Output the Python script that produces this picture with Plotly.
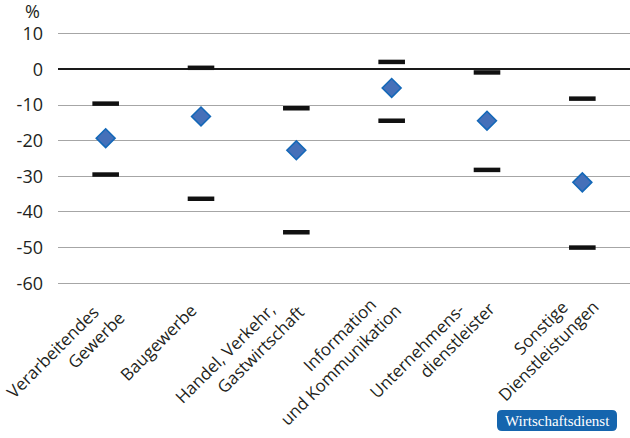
import plotly.graph_objects as go

categories = [
    "Verarbeitendes<br>Gewerbe",
    "Baugewerbe",
    "Handel, Verkehr,<br>Gastwirtschaft",
    "Information<br>und Kommunikation",
    "Unternehmens-<br>dienstleister",
    "Sonstige<br>Dienstleistungen",
]
upper = [-9.6, 0.45, -10.9, 2.1, -0.85, -8.2]
middle = [-19.3, -13.2, -22.7, -5.2, -14.4, -31.7]
lower = [-29.5, -36.3, -45.7, -14.4, -28.2, -50.0]
y_ticks = [10, 0, -10, -20, -30, -40, -50, -60]

# layout only: where each rotated label line ends (px offset from tick, px from top)
label_tips = [
    [(-11, 303), (15, 308)],
    [(-9, 302)],
    [(-26, 301), (3, 303)],
    [(-20, 295), (5, 301)],
    [(-27, 300), (4, 299)],
    [(-19, 298), (12, 298)],
]

x = list(range(len(categories)))
txt = "#231f20"
font = "Open Sans, Noto Sans, sans-serif"

W, H = 630, 438
L, R, T, B = 58, 0, 32, 153
pw, ph = W - L - R, H - T - B
AX_BOTTOM = H - B


def px(v):
    return (v - L) / pw


def py(v):
    return (H - B - v) / ph


# rounded badge box (decoration)
x0, x1, y0, y1, rr = 497, 617, 410, 431, 5
path = (
    f"M {px(x0 + rr)} {py(y0)} L {px(x1 - rr)} {py(y0)} "
    f"Q {px(x1)} {py(y0)} {px(x1)} {py(y0 + rr)} L {px(x1)} {py(y1 - rr)} "
    f"Q {px(x1)} {py(y1)} {px(x1 - rr)} {py(y1)} L {px(x0 + rr)} {py(y1)} "
    f"Q {px(x0)} {py(y1)} {px(x0)} {py(y1 - rr)} L {px(x0)} {py(y0 + rr)} "
    f"Q {px(x0)} {py(y0)} {px(x0 + rr)} {py(y0)} Z"
)

fig = go.Figure()
for vals in (upper, lower):
    fig.add_trace(go.Scatter(
        x=x, y=vals, mode="markers",
        marker=dict(symbol="line-ew", size=19, line=dict(width=4.5, color="#111111")),
        hoverinfo="skip", showlegend=False))
fig.add_trace(go.Scatter(
    x=x, y=middle, mode="markers",
    marker=dict(symbol="diamond", size=14.5, color="#4570b9",
                line=dict(width=1.6, color="#1468b8")),
    showlegend=False))

annotations = [
    dict(text="%", xref="paper", yref="paper", x=px(32), y=py(11),
         xanchor="center", yanchor="middle", showarrow=False,
         font=dict(size=18, color=txt)),
    dict(text="Wirtschaftsdienst", xref="paper", yref="paper",
         x=px((x0 + x1) / 2), y=py((y0 + y1) / 2),
         xanchor="center", yanchor="middle", showarrow=False,
         font=dict(size=15, color="white", family="Liberation Serif, serif")),
]
for i, (cat, tips) in enumerate(zip(categories, label_tips)):
    for line, (dx, ty) in zip(cat.split("<br>"), tips):
        annotations.append(dict(
            text=line, x=i, xref="x", y=0, yref="paper",
            xshift=dx + 12, yshift=-(ty - 5 - AX_BOTTOM),
            xanchor="right", yanchor="top", textangle=-45, showarrow=False,
            font=dict(size=17, color=txt)))

fig.update_layout(
    width=W, height=H,
    margin=dict(l=L, r=R, t=T, b=B),
    plot_bgcolor="white", paper_bgcolor="white",
    font=dict(family=font, color=txt, size=17),
    xaxis=dict(
        tickmode="array", tickvals=x, ticktext=categories, showticklabels=False,
        range=[-0.5, 5.5], showgrid=False, zeroline=False,
        showline=False, ticks="",
    ),
    yaxis=dict(
        tickmode="array", tickvals=y_ticks, ticktext=[str(v) for v in y_ticks],
        range=[-60.5, 10.5], showgrid=True, gridcolor="#a6a6a6", gridwidth=1,
        zeroline=True, zerolinecolor="#1a1a1a", zerolinewidth=1.5,
        showline=False, ticks="", tickfont=dict(size=18, color=txt),
        ticklabelstandoff=14,
    ),
    shapes=[dict(type="path", xref="paper", yref="paper", path=path,
                 fillcolor="#1565ae", line=dict(width=0), layer="above")],
    annotations=annotations,
)

fig.write_html("out.html")
